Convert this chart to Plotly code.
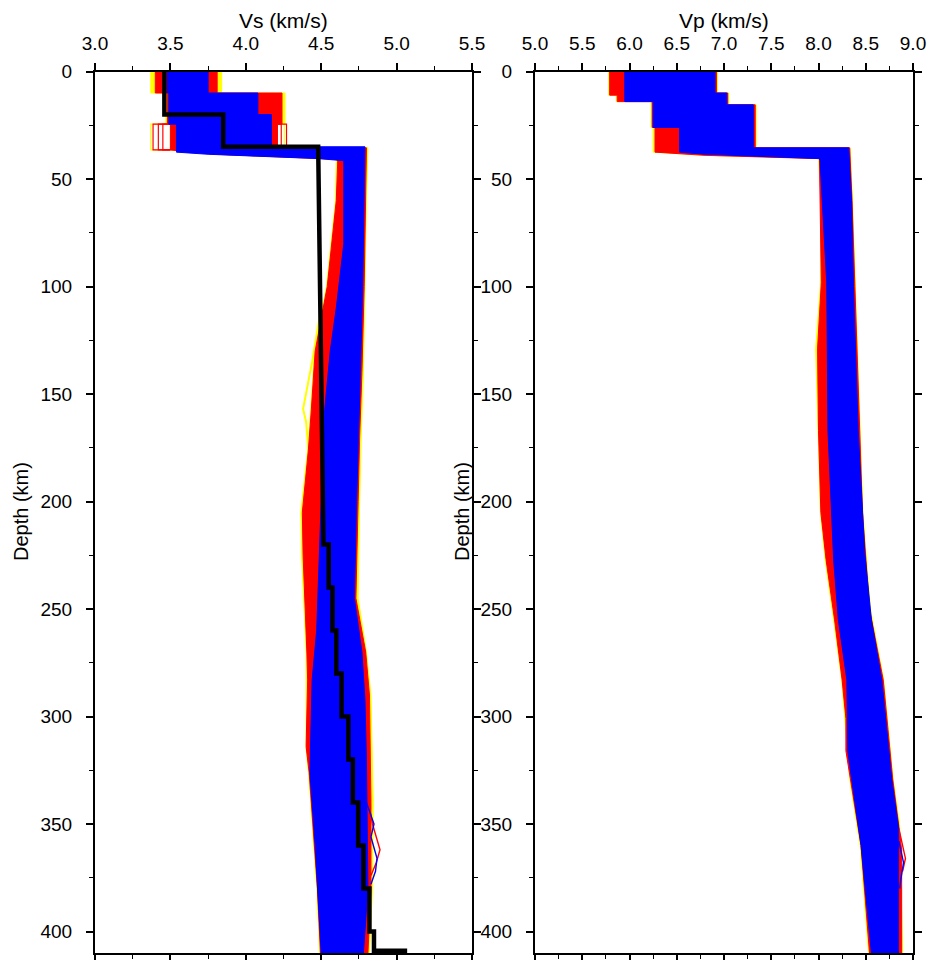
import plotly.graph_objects as go

# ---------------- data: ensemble envelopes, (depth km, velocity km/s) ----------------
# Vs panel
VS_YELLOW_RIGHT = [(0, 3.84), (10, 3.84), (10, 4.26), (24.5, 4.26), (24.5, 4.21), (35.5, 4.21), (35.5, 4.81),
                   (60, 4.80), (100, 4.79), (140, 4.78), (170, 4.765), (200, 4.755), (245, 4.745), (270, 4.80),
                   (290, 4.83), (340, 4.845), (380, 4.84), (410, 4.82)]
VS_YELLOW_LEFT = [(0, 3.37), (10, 3.37), (10, 3.47), (24.5, 3.47), (24.5, 3.50), (36.5, 3.50), (38.5, 3.80),
                  (40.5, 4.50), (41, 4.60), (60, 4.595), (100, 4.535), (130, 4.455), (157, 4.43), (176, 4.41),
                  (205, 4.365), (225, 4.37), (270, 4.40), (315, 4.40), (330, 4.42), (380, 4.47),
                  (410, 4.49)]
VS_RED_RIGHT = [(0, 3.81), (10, 3.81), (10, 4.24), (24.5, 4.24), (24.5, 4.21), (35.5, 4.21), (35.5, 4.80),
                (60, 4.795), (100, 4.785), (140, 4.77), (170, 4.755), (200, 4.745), (245, 4.73), (270, 4.795),
                (290, 4.82), (340, 4.83), (380, 4.83), (410, 4.81)]
VS_RED_LEFT = [(0, 3.40), (10, 3.40), (10, 3.48), (24.5, 3.48), (24.5, 3.50), (36.5, 3.50), (38.5, 3.80),
               (40.5, 4.50), (41, 4.61), (60, 4.60), (100, 4.54), (130, 4.46), (157, 4.435), (176, 4.415),
               (205, 4.375), (225, 4.38), (270, 4.405), (283, 4.41), (314, 4.40), (326, 4.42), (380, 4.475),
               (410, 4.495)]
VS_BLUE_RIGHT = [(0, 3.75), (10, 3.75), (10, 4.08), (20, 4.08), (20, 4.17), (35, 4.17), (35, 4.79),
                 (60, 4.785), (100, 4.775), (140, 4.76), (170, 4.745), (200, 4.735), (245, 4.72), (270, 4.77),
                 (292, 4.79), (320, 4.80), (380, 4.81), (410, 4.78)]
VS_BLUE_LEFT = [(0, 3.48), (10, 3.48), (10, 3.49), (24.5, 3.49), (24.5, 3.54), (37.5, 3.54), (38.5, 3.75),
                (40.5, 4.48), (41.5, 4.65), (80, 4.65), (110, 4.60), (130, 4.56), (167, 4.51), (200, 4.50),
                (220, 4.49), (260, 4.47), (283, 4.44), (326, 4.425), (360, 4.46), (410, 4.50)]

# individual outlying crustal profiles (layer 24.5-36 km), Vs values
VS_CRUST_OUT_RED_LOW = [3.385, 3.42, 3.45]
VS_CRUST_OUT_RED_HIGH = [4.235, 4.27]
VS_CRUST_OUT_YELLOW_LOW = [3.37]
VS_CRUST_OUT_YELLOW_HIGH = [4.255]
# individual outlying mantle profiles
VS_MID_YELLOW = [(110, 4.50), (135, 4.44), (157, 4.38), (163, 4.40), (176, 4.415), (190, 4.40)]
VS_DEEP_RED = [(335, 4.80), (350, 4.84), (362, 4.89), (368, 4.865), (374, 4.83)]
VS_DEEP_BLUE = [(340, 4.80), (350, 4.85), (356, 4.83), (366, 4.87), (372, 4.86), (378, 4.83)]

# reference Vs model (black)
REF_DEPTH = [0, 20, 20, 35, 35, 220, 220, 240, 240, 260, 260, 280, 280, 300, 300, 320, 320, 340, 340,
             360, 360, 380, 380, 400, 400, 409, 409]
REF_VS = [3.46, 3.46, 3.85, 3.85, 4.48, 4.515, 4.55, 4.55, 4.575, 4.575, 4.60, 4.60, 4.635, 4.635, 4.68,
          4.68, 4.71, 4.71, 4.745, 4.745, 4.78, 4.78, 4.82, 4.82, 4.85, 4.85, 5.07]

# Vp panel
VP_YELLOW_RIGHT = [(0, 6.93), (10, 6.93), (10, 7.05), (15.5, 7.05), (15.5, 7.34), (35.5, 7.34), (35.5, 8.335),
                   (60, 8.36), (100, 8.39), (167, 8.44), (205, 8.47), (250, 8.55), (283, 8.69), (306, 8.74),
                   (329, 8.79), (351, 8.86), (410, 8.89)]
VP_YELLOW_LEFT = [(0, 5.78), (11, 5.78), (11, 5.86), (14, 5.86), (14, 6.23), (26, 6.23), (26, 6.25),
                  (37.5, 6.25), (39, 6.8), (40.4, 8.0), (41, 8.0), (60, 8.03), (100, 8.02), (129, 7.97),
                  (162, 7.99), (205, 8.02), (227, 8.07), (255, 8.16), (283, 8.245), (302, 8.28), (329, 8.33),
                  (360, 8.44), (410, 8.53)]
VP_RED_RIGHT = [(0, 6.92), (10, 6.92), (10, 7.04), (15.5, 7.04), (15.5, 7.33), (35.5, 7.33), (35.5, 8.33),
                (60, 8.355), (100, 8.385), (167, 8.44), (205, 8.465), (250, 8.54), (283, 8.685), (306, 8.735),
                (329, 8.785), (351, 8.85), (362, 8.88), (410, 8.88)]
VP_RED_LEFT = [(0, 5.79), (11, 5.79), (11, 5.87), (14, 5.87), (14, 6.24), (26, 6.24), (26, 6.27), (37.5, 6.27),
               (39, 6.8), (40.5, 8.0), (41, 8.01), (98, 8.03), (129, 7.99), (167, 8.0), (205, 8.025),
               (227, 8.08), (255, 8.17), (283, 8.25), (301, 8.29), (316, 8.29), (329, 8.34), (360, 8.45),
               (410, 8.54)]
VP_BLUE_RIGHT = [(0, 6.905), (10, 6.905), (10, 7.03), (15.5, 7.03), (15.5, 7.31), (35.5, 7.31), (35.5, 8.32),
                 (60, 8.35), (100, 8.37), (167, 8.42), (224, 8.49), (255, 8.56), (283, 8.67), (306, 8.72),
                 (329, 8.775), (351, 8.845), (410, 8.845)]
VP_BLUE_LEFT = [(0, 5.95), (14, 5.95), (14, 6.25), (26, 6.25), (26, 6.53), (37.5, 6.53), (38.5, 6.8),
                (40.5, 8.0), (41, 8.016), (98, 8.087), (167, 8.10), (205, 8.14), (227, 8.16), (255, 8.21),
                (283, 8.30), (316, 8.31), (329, 8.35), (360, 8.45), (410, 8.56)]
VP_DEEP_RED = [(352, 8.85), (366, 8.92), (372, 8.89)]
VP_DEEP_BLUE = [(358, 8.85), (368, 8.90), (376, 8.87), (380, 8.86)]

VS_TICKS = [3.0, 3.5, 4.0, 4.5, 5.0, 5.5]
VP_TICKS = [5.0, 5.5, 6.0, 6.5, 7.0, 7.5, 8.0, 8.5, 9.0]
DEPTH_TICKS = [0, 50, 100, 150, 200, 250, 300, 350, 400]

YELLOW, RED, BLUE, BLACK = "#ffff00", "#ff0000", "#0000ff", "#000000"
FONT = "Liberation Sans, Arial, Helvetica, sans-serif"

fig = go.Figure()


def envelope(right, left, color, xa, ya):
    pts = right + left[::-1]
    fig.add_trace(go.Scatter(x=[p[1] for p in pts], y=[p[0] for p in pts], mode="lines",
                             fill="toself", fillcolor=color, line=dict(color=color, width=1),
                             xaxis=xa, yaxis=ya, showlegend=False, hoverinfo="skip"))


def polyline(pts, color, xa, ya, width=1.4):
    fig.add_trace(go.Scatter(x=[p[1] for p in pts], y=[p[0] for p in pts], mode="lines",
                             line=dict(color=color, width=width), xaxis=xa, yaxis=ya,
                             showlegend=False, hoverinfo="skip"))


def crust_boxes(values, edge, top, bottom, color):
    xs, ys = [], []
    for v in values:
        xs += [edge, v, v, edge, None]
        ys += [top, top, bottom, bottom, None]
    fig.add_trace(go.Scatter(x=xs, y=ys, mode="lines", line=dict(color=color, width=1.2),
                             xaxis="x", yaxis="y", showlegend=False, hoverinfo="skip"))


# Vs panel
envelope(VS_YELLOW_RIGHT, VS_YELLOW_LEFT, YELLOW, "x", "y")
crust_boxes(VS_CRUST_OUT_YELLOW_LOW, 3.50, 24.5, 36.5, YELLOW)
crust_boxes(VS_CRUST_OUT_YELLOW_HIGH, 4.21, 24.5, 35.5, YELLOW)
polyline(VS_MID_YELLOW, YELLOW, "x", "y", width=2)
envelope(VS_RED_RIGHT, VS_RED_LEFT, RED, "x", "y")
crust_boxes(VS_CRUST_OUT_RED_LOW, 3.50, 24.5, 36.5, RED)
crust_boxes(VS_CRUST_OUT_RED_HIGH, 4.21, 24.5, 35.5, RED)
polyline(VS_DEEP_RED, RED, "x", "y")
envelope(VS_BLUE_RIGHT, VS_BLUE_LEFT, BLUE, "x", "y")
polyline(VS_DEEP_BLUE, BLUE, "x", "y")
fig.add_trace(go.Scatter(x=REF_VS, y=REF_DEPTH, mode="lines", line=dict(color=BLACK, width=4.5),
                         xaxis="x", yaxis="y", showlegend=False, hoverinfo="skip"))

# Vp panel
envelope(VP_YELLOW_RIGHT, VP_YELLOW_LEFT, YELLOW, "x2", "y2")
envelope(VP_RED_RIGHT, VP_RED_LEFT, RED, "x2", "y2")
polyline(VP_DEEP_RED, RED, "x2", "y2")
envelope(VP_BLUE_RIGHT, VP_BLUE_LEFT, BLUE, "x2", "y2")
polyline(VP_DEEP_BLUE, BLUE, "x2", "y2")

W, H = 931, 960
L1, R1, L2, R2 = 95, 472, 535, 913
TOP, BOT = 71.5, 953

xcommon = dict(side="top", showgrid=False, zeroline=False, showline=True, linecolor=BLACK, linewidth=2,
               mirror="allticks", ticks="outside", ticklen=7, tickwidth=1.5, tickcolor=BLACK,
               tickformat=".1f", tickfont=dict(family=FONT, size=19, color=BLACK),
               minor=dict(ticks="outside", ticklen=4, tickwidth=1.2, tickcolor=BLACK, dtick=0.25, showgrid=False),
               ticklabelstandoff=5, automargin=False, fixedrange=True)
ycommon = dict(range=[410, 0], showgrid=False, zeroline=False, showline=True, linecolor=BLACK, linewidth=2,
               mirror="allticks", ticks="outside", ticklen=7, tickwidth=1.5, tickcolor=BLACK,
               tickvals=DEPTH_TICKS, ticktext=[str(t) for t in DEPTH_TICKS],
               tickfont=dict(family=FONT, size=19, color=BLACK),
               minor=dict(ticks="outside", ticklen=4, tickwidth=1.2, tickcolor=BLACK, dtick=25, showgrid=False),
               ticklabelstandoff=10, automargin=False, fixedrange=True,
               domain=[1 - BOT / H, 1 - TOP / H])

fig.update_layout(
    width=W, height=H, margin=dict(l=0, r=0, t=0, b=0),
    paper_bgcolor="white", plot_bgcolor="white", showlegend=False,
    xaxis=dict(xcommon, range=[3.0, 5.5], tickvals=VS_TICKS, domain=[L1 / W, R1 / W], anchor="y"),
    xaxis2=dict(xcommon, range=[5.0, 9.0], tickvals=VP_TICKS, domain=[L2 / W, R2 / W], anchor="y2"),
    yaxis=dict(ycommon, anchor="x"),
    yaxis2=dict(ycommon, anchor="x2"),
    annotations=[
        dict(text="Vs (km/s)", x=(L1 + R1) / 2 / W, y=1 - 20 / H, xref="paper", yref="paper",
             showarrow=False, font=dict(family=FONT, size=21, color=BLACK), xanchor="center", yanchor="middle"),
        dict(text="Vp (km/s)", x=(L2 + R2) / 2 / W, y=1 - 20 / H, xref="paper", yref="paper",
             showarrow=False, font=dict(family=FONT, size=21, color=BLACK), xanchor="center", yanchor="middle"),
        dict(text="Depth (km)", x=21 / W, y=1 - 512 / H, xref="paper", yref="paper", textangle=-90,
             showarrow=False, font=dict(family=FONT, size=20, color=BLACK), xanchor="center", yanchor="middle"),
        dict(text="Depth (km)", x=462 / W, y=1 - 512 / H, xref="paper", yref="paper", textangle=-90,
             showarrow=False, font=dict(family=FONT, size=20, color=BLACK), xanchor="center", yanchor="middle"),
    ],
)

fig.write_html("out.html")
